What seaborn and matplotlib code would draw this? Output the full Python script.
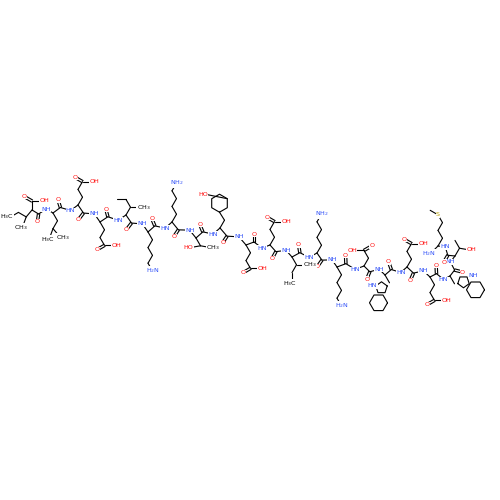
import numpy as np
import matplotlib
matplotlib.use("Agg")
import matplotlib.pyplot as plt
import seaborn as sns

# residues from C-terminus (left) to N-terminus (right)
residues = ["Ile","Leu","Glu","Glu","Ile","Lys","Lys","Thr","Tyr","Glu",
            "Glu","Ile","Lys","Lys","Asp","Trp","Glu","Glu","Trp","Thr","Met"]
ca_x = [32,53,78,100,126,148,172,196,220,246,270,292,317,337,364,385,407,430,450,455,438]
ca_y = [210,213,205,222,215,232,222,238,228,245,245,257,253,267,266,275,267,277,276,256,246]
side_dir = [1,1,-1,1,-1,1,-1,1,-1,1,-1,1,-1,1,-1,1,-1,1,1,-1,-1]  # -1 up, +1 down

sns.set_theme(style="white")
fig, ax = plt.subplots(figsize=(5,5), dpi=100)
fig.subplots_adjust(0,0,1,1)
ax.set_xlim(0,500); ax.set_ylim(500,0); ax.axis("off")

BLACK="#000000"; RED="#FF0D0D"; BLUE="#3050F8"; YEL="#B8A000"
L=9.0; FS=4.6
def bond(a,b,c=BLACK):
    ax.plot([a[0],b[0]],[a[1],b[1]],color=c,lw=0.8,solid_capstyle="round",zorder=1)
def dbond(a,b):
    a=np.array(a,float); b=np.array(b,float); d=b-a; n=np.array([-d[1],d[0]])/np.linalg.norm(d)*1.2
    bond(a+n,b+n); bond(a-n,b-n)
def label(p,t,c):
    ax.text(p[0],p[1],t,color=c,fontsize=FS,ha="center",va="center",zorder=3,
            bbox=dict(boxstyle="square,pad=0.05",fc="white",ec="none"))
def step(p,ang):
    a=np.deg2rad(ang); return np.array([p[0]+L*np.sin(a),p[1]-L*np.cos(a)])
def chain(p,n,d,start=1):
    pts=[np.array(p,float)]; s=start
    for i in range(n):
        ang=(30*s) if d<0 else (180-30*s)
        pts.append(step(pts[-1],ang)); bond(pts[-2],pts[-1]); s=-s
    return pts,s
def cooh(p,d,s):
    q=step(p,(30*s) if d<0 else (180-30*s)); bond(p,q)
    o=step(q,(-60*s) if d<0 else (180+60*s)); dbond(q,o); label(o,"O",RED)
    oh=step(q,90*s); bond(q,oh); label(oh+np.array([3*s,0]),"OH",RED)
def ring(center,r,start,n=6):
    angs=np.deg2rad(start+np.arange(n+1)*360/n)
    xs=center[0]+r*np.cos(angs); ys=center[1]+r*np.sin(angs)
    ax.plot(xs,ys,color=BLACK,lw=0.8,zorder=1)
    return xs,ys

ca=np.array(list(zip(ca_x,ca_y)),float)
# backbone
for i in range(len(ca)-1):
    p,q=ca[i],ca[i+1]; d=q-p; n=np.array([-d[1],d[0]])/np.linalg.norm(d)
    s=1 if i%2==0 else -1
    off=n*3*s
    c=p+d/3+off; nn=p+2*d/3-off
    bond(p,c); bond(c,nn); bond(nn,q)
    u=off/np.linalg.norm(off)
    o=c+u*8
    dbond(c,o); label(o,"O",RED)
    label(nn,"HN" if i%2 else "NH",BLUE)

# termini
c=step(ca[0],0); bond(ca[0],c); o=step(c,-60); dbond(c,o); label(o,"O",RED)
oh=step(c,90); bond(c,oh); label(oh+np.array([3,0]),"OH",RED)
nt=step(ca[-1],225); bond(ca[-1],nt); label(nt+np.array([-3,1]),"H$_2$N",BLUE)

for i,(r,d) in enumerate(zip(residues,side_dir)):
    p=ca[i]
    if i==0:  # C-terminal Ile: ethyl left, methyl down
        b=step(p,220); bond(p,b)
        m=step(b,200); bond(b,m); label(m+np.array([-2,2]),"CH$_3$",BLACK)
        e=step(b,-60); bond(b,e); e2=step(e,-120); bond(e,e2); label(e2+np.array([-4,0]),"H$_3$C",BLACK)
        continue
    if r=="Glu":
        pts,s=chain(p,2,d); cooh(pts[-1],d,s)
    elif r=="Asp":
        pts,s=chain(p,1,d); cooh(pts[-1],d,s)
    elif r=="Lys":
        pts,s=chain(p,4,d); q=step(pts[-1],(30*s) if d<0 else (180-30*s)); bond(pts[-1],q)
        label(q,"NH$_2$" if d<0 else "H$_2$N",BLUE)
    elif r=="Ile":
        pts,s=chain(p,1,d); b=pts[-1]
        m=step(b,90); bond(b,m); label(m+np.array([4,0]),"CH$_3$",BLACK)
        e=step(b,-30 if d<0 else 210); bond(b,e); e2=step(e,-90 if d<0 else 180); bond(e,e2)
        if d>0: label(e2+np.array([-2,2]),"H$_3$C",BLACK)
    elif r=="Leu":
        pts,s=chain(p,2,d); b=pts[-1]
        m=step(b,140); bond(b,m); label(m+np.array([4,2]),"CH$_3$",BLACK)
        m2=step(b,200); bond(b,m2); label(m2+np.array([-2,3]),"H$_3$C",BLACK)
    elif r=="Thr":
        pts,s=chain(p,1,d); b=pts[-1]
        m=step(b,-100 if d>0 else 100); bond(b,m); label(m+np.array([-3 if d>0 else 3,0]),"HO" if d>0 else "OH",RED)
        m2=step(b,100 if d>0 else -30); bond(b,m2); label(m2+np.array([4 if d>0 else 0,0]),"CH$_3$" if d>0 else "",BLACK)
    elif r=="Tyr":
        pts,s=chain(p,1,d); b=pts[-1]; cen=b+np.array([-5,-17])
        xs,ys=ring(cen,L,90)
        bond(b,(xs[0],ys[0]))
        hx=np.array([cen[0]-L*1.6,cen[1]-L*1.0]); bond((xs[4],ys[4]),hx); label(hx+np.array([-2,0]),"HO",RED)
    elif r=="Trp":
        pts,s=chain(p,1,d); b=pts[-1]
        if i<18:
            cen5=b+np.array([-8,5]); ring(cen5,6,-18,5)
            cen6=cen5+np.array([-3,15]); ring(cen6,L,0)
            label(cen5+np.array([-9,-2]),"HN",BLUE)
        else:
            cen5=b+np.array([9,-2]); ring(cen5,6,162,5)
            cen6=cen5+np.array([12,8]); ring(cen6,L,0)
            label(cen5+np.array([10,-6]),"NH",BLUE)
    elif r=="Met":
        pts,s=chain(p,3,d); q=step(pts[-1],(30*s)); bond(pts[-1],q); label(q,"S",YEL)
        m=step(q,-60); bond(q,m)

fig.savefig("out.png",dpi=100)
